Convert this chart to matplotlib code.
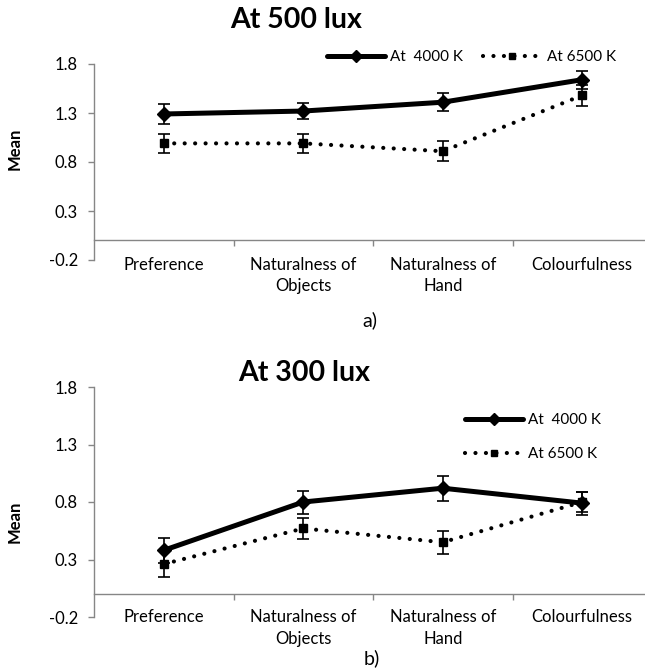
"""Mean ratings at 4000 K and 6500 K for two illuminance levels."""

import matplotlib

matplotlib.use("Agg")
import matplotlib.pyplot as plt
from matplotlib import transforms

plt.rcParams["font.family"] = ["Lato", "DejaVu Sans"]

CATEGORIES = ["Preference", "Naturalness of\nObjects", "Naturalness of\nHand", "Colourfulness"]
YTICKS = [-0.2, 0.3, 0.8, 1.3, 1.8]
LABEL_4000 = "At  4000 K"
LABEL_6500 = "At 6500 K"

# 500 lux
LUX500_4000 = [1.29, 1.32, 1.41, 1.64]
LUX500_4000_ERR = [0.10, 0.08, 0.09, 0.09]
LUX500_6500 = [0.99, 0.99, 0.91, 1.48]
LUX500_6500_ERR = [0.10, 0.10, 0.10, 0.11]

# 300 lux
LUX300_4000 = [0.38, 0.80, 0.92, 0.79]
LUX300_4000_ERR = [0.11, 0.10, 0.11, 0.10]
LUX300_6500 = [0.26, 0.57, 0.45, 0.80]
LUX300_6500_ERR = [0.11, 0.09, 0.10, 0.09]

W, H = 645, 670
GRAY = "#868686"
FS = 12

PANELS = [
    dict(
        title="At 500 lux",
        tag="a)",
        rect=(94, 64, 652, 260),  # left, top, right, bottom in pixels
        title_xy=(296, 20),
        mean_xy=(15, 149),
        tag_xy=(370, 320),
        label_off=2,
        series=(LUX500_4000, LUX500_4000_ERR, LUX500_6500, LUX500_6500_ERR),
        legend=dict(ncol=2, anchor=(327, 57), columnspacing=1.3),
    ),
    dict(
        title="At 300 lux",
        tag="b)",
        rect=(94, 387, 652, 617),
        title_xy=(304, 373),
        mean_xy=(15, 522),
        tag_xy=(372, 658),
        label_off=5.5,
        series=(LUX300_4000, LUX300_4000_ERR, LUX300_6500, LUX300_6500_ERR),
        legend=dict(ncol=1, anchor=(465, 437), columnspacing=1.0),
    ),
]


def fx(px):
    return px / W


def fy(py):
    return 1 - py / H


def draw_panel(fig, p):
    left, top, right, bottom = p["rect"]
    ax = fig.add_axes([fx(left), fy(bottom), fx(right - left), (bottom - top) / H])
    x = list(range(1, len(CATEGORIES) + 1))
    y4, e4, y6, e6 = p["series"]

    ax.errorbar(x, y4, yerr=e4, fmt="none", ecolor="black", elinewidth=1.2,
                capsize=4, capthick=1.2, zorder=4)
    ax.errorbar(x, y6, yerr=e6, fmt="none", ecolor="black", elinewidth=1.2,
                capsize=4, capthick=1.2, zorder=4)
    ax.plot(x, y4, color="black", lw=3.6, marker="D", ms=7.5,
            solid_capstyle="round", label=LABEL_4000, zorder=3)
    ax.plot(x, y6, color="black", lw=3.0, ls=(0, (0.01, 2.5)),
            dash_capstyle="round", marker="s", ms=6, label=LABEL_6500, zorder=3)

    ax.set_xlim(0.5, len(CATEGORIES) + 0.5)
    ax.set_ylim(YTICKS[0], YTICKS[-1])
    ax.set_yticks(YTICKS)
    ax.set_yticklabels([f"{v:.1f}" for v in YTICKS])
    ax.set_xticks([i + 0.5 for i in x[:-1]])
    ax.set_xticklabels([])

    for side in ("top", "right"):
        ax.spines[side].set_visible(False)
    ax.spines["bottom"].set_position(("data", 0))
    for side in ("bottom", "left"):
        ax.spines[side].set_color(GRAY)
        ax.spines[side].set_linewidth(1.0)
    ax.tick_params(axis="y", direction="out", length=4.5, width=1.0, color=GRAY,
                   pad=7, labelsize=FS, labelcolor="black")
    ax.tick_params(axis="x", direction="out", length=4.5, width=1.0, color=GRAY)

    off = transforms.offset_copy(ax.transData, fig=fig, x=0, y=p["label_off"], units="points")
    for xi, cat in zip(x, CATEGORIES):
        ax.text(xi, YTICKS[0], cat, transform=off, ha="center", va="top",
                fontsize=FS, linespacing=1.4)

    leg = p["legend"]
    ax.legend(
        loc="center left",
        bbox_to_anchor=(fx(leg["anchor"][0]), fy(leg["anchor"][1])),
        bbox_transform=fig.transFigure,
        ncol=leg["ncol"],
        frameon=False,
        fontsize=11,
        borderpad=0,
        borderaxespad=0,
        handlelength=3.8,
        handletextpad=0.35,
        columnspacing=leg["columnspacing"],
        labelspacing=1.3,
        numpoints=1,
        markerscale=0.8,
    )

    fig.text(fx(p["title_xy"][0]), fy(p["title_xy"][1]), p["title"], ha="center",
             va="center", fontsize=20.5, fontweight="bold")
    fig.text(fx(p["mean_xy"][0]), fy(p["mean_xy"][1]), "Mean", ha="center",
             va="center", rotation=90, fontsize=12, fontweight="bold")
    fig.text(fx(p["tag_xy"][0]), fy(p["tag_xy"][1]), p["tag"], ha="center",
             va="center", fontsize=14)


def main():
    fig = plt.figure(figsize=(W / 100, H / 100), dpi=100)
    for p in PANELS:
        draw_panel(fig, p)
    fig.savefig("out.png", dpi=100)


if __name__ == "__main__":
    main()
